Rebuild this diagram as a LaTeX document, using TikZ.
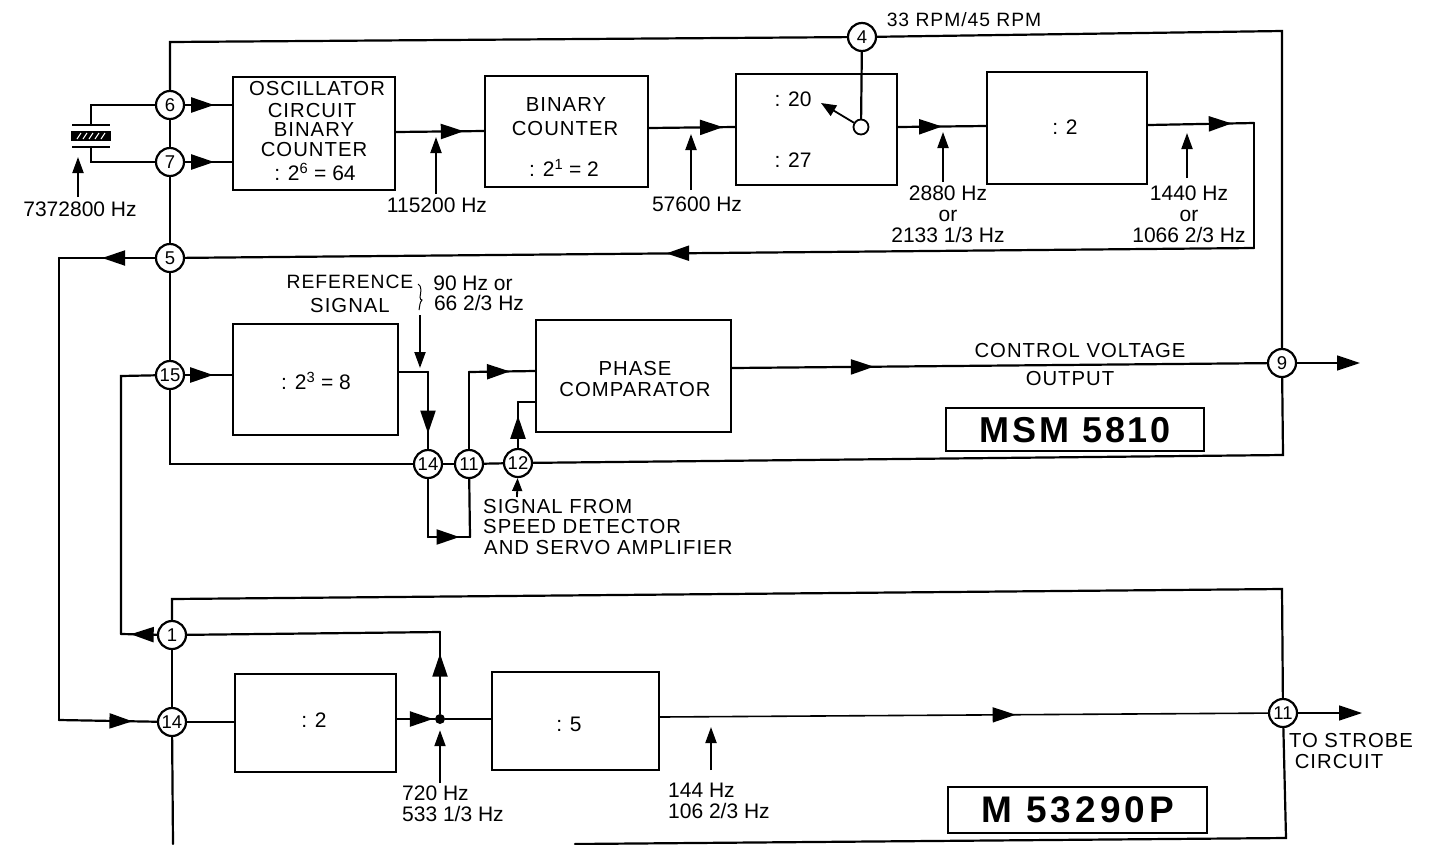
\documentclass[tikz,border=0pt]{standalone}
\usepackage{fontspec}
\setmainfont{Liberation Sans}
\newfontfamily\capsf[LetterSpace=5]{Liberation Sans}
\newfontfamily\bigsf[LetterSpace=8]{Liberation Sans}
\newfontfamily\bigsfb[LetterSpace=11]{Liberation Sans}
\usetikzlibrary{arrows.meta,decorations.markings}
\tikzset{
  x=1pt,y=-1pt,
  wire/.style={line width=2.2pt,line cap=round,line join=miter},
  thinwire/.style={line width=1.6pt},
  pin/.style={circle,draw,line width=2.2pt,fill=white,minimum size=28pt,inner sep=0pt,font=\fontsize{18.5}{18}\selectfont},
  block/.style={draw,line width=2.2pt,anchor=north west,inner sep=0pt},
  lbl/.style={inner sep=0pt,align=center,font=\fontsize{21}{20}\selectfont},
  captext/.style={inner sep=0pt,align=center,font=\capsf\fontsize{20.3}{20}\selectfont},
  smallcap/.style={inner sep=0pt,align=center,font=\capsf\fontsize{19.3}{20}\selectfont},
  ttl/.style={draw,line width=2.4pt,anchor=north west,inner sep=0pt},
  pointer/.style={line width=2pt,-{Triangle[length=16pt,width=11pt]}},
  tipat/.style={postaction={decorate,decoration={markings,mark=at position #1 with {\arrow{Triangle[length=23pt,width=15pt]}}}}},
}
\begin{document}
\begin{tikzpicture}
\useasboundingbox (0,0) rectangle (1439,844);
% pins
\node[pin] (p4) at (862,37) {4};
\node[pin] (p6) at (170,105) {6};
\node[pin] (p7) at (170,162) {7};
\node[pin] (p5) at (170,258) {5};
\node[pin] (p15) at (170,375) {15};
\node[pin] (p14a) at (428,464) {14};
\node[pin] (p11a) at (469,464) {11};
\node[pin] (p12) at (518,463) {12};
\node[pin] (p9) at (1282,363) {9};
\node[pin] (p1) at (172,635) {1};
\node[pin] (p14b) at (172,722) {14};
\node[pin] (p11b) at (1283,713) {11};
% blocks
\node[block,minimum width=162pt,minimum height=113pt] (osc) at (232,76) {};
\node[block,minimum width=163pt,minimum height=111pt] (bin) at (484,75) {};
\node[block,minimum width=161pt,minimum height=111pt] (sw) at (735,73) {};
\node[block,minimum width=160pt,minimum height=112pt] (dtwo) at (986,71) {};
\node[block,minimum width=165pt,minimum height=111pt] (deight) at (232,323) {};
\node[block,minimum width=195pt,minimum height=112pt] (phase) at (535,319) {};
\node[block,minimum width=161pt,minimum height=98pt] (dtwob) at (234,673) {};
\node[block,minimum width=167pt,minimum height=98pt] (dfive) at (491,671) {};
% block texts
\node[captext] (tosc1) at (317,89) {OSCILLATOR};
\node[captext] (tosc2) at (312,111) {CIRCUIT};
\node[captext] (tosc3) at (314,130) {BINARY};
\node[captext] (tosc4) at (314,150) {COUNTER};
\node[lbl] (tosc5) at (315,172) {: 2\textsuperscript{6} = 64};
\node[captext] (tbin1) at (566,105) {BINARY};
\node[captext] (tbin2) at (565,129) {COUNTER};
\node[lbl] (tbin3) at (564,168) {: 2\textsuperscript{1} = 2};
\node[lbl] (t20) at (793,99) {: 20};
\node[lbl] (t27) at (793,160) {: 27};
\node[lbl] (ttwo) at (1065,127) {: 2};
\node[lbl] (teight) at (316,381) {: 2\textsuperscript{3} = 8};
\node[captext] (tph1) at (635,369) {PHASE};
\node[captext] (tph2) at (635,390) {COMPARATOR};
\node[lbl] (ttwob) at (314,720) {: 2};
\node[lbl] (tfive) at (569,724) {: 5};
% free labels
\node[smallcap] (rpm) at (964,20) {33 RPM/45 RPM};
\node[lbl] (l7372) at (80,209) {7372800 Hz};
\node[lbl] (l115) at (437,205) {115200 Hz};
\node[lbl] (l576) at (697,204) {57600 Hz};
\node[lbl] (l288) at (948,214) {2880 Hz\\[1pt] or\\[1pt] 2133 1/3 Hz};
\node[lbl] (l144) at (1189,214) {1440 Hz\\[1pt] or\\[1pt] 1066 2/3 Hz};
\node[smallcap] (lref) at (350,282) {REFERENCE};
\node[captext] (lsig) at (350,306) {SIGNAL};
\node[lbl] (l90) at (473,283) {90 Hz or};
\node[lbl] (l66) at (479,303) {66 2/3 Hz};
\node[captext] (lcv) at (1080,351) {CONTROL VOLTAGE};
\node[captext] (lout) at (1070,379) {OUTPUT};
\node[captext,anchor=west] (ls1) at (483,507) {SIGNAL FROM};
\node[captext,anchor=west] (ls2) at (483,527) {SPEED DETECTOR};
\node[captext,anchor=west] (ls3) at (484,548) {AND SERVO AMPLIFIER};
\node[lbl,anchor=west] (l720) at (402,793) {720 Hz};
\node[lbl,anchor=west] (l533) at (402,814) {533 1/3 Hz};
\node[lbl,anchor=west] (l1440) at (668,790) {144 Hz};
\node[lbl,anchor=west] (l106) at (668,811) {106 2/3 Hz};
\node[captext] (lto) at (1351,740) {TO STROBE};
\node[captext] (lci) at (1339,761) {CIRCUIT};
\node[ttl,minimum width=258pt,minimum height=43pt,font=\bigsf\bfseries\fontsize{36}{36}\selectfont] (msm) at (945,407) {MSM 5810};
\node[ttl,minimum width=259pt,minimum height=46pt,font=\bigsfb\bfseries\fontsize{37}{37}\selectfont] (m53) at (947,786) {M 53290P};
% coordinates
\coordinate (a) at (170,42);
\coordinate (b) at (1282,31);
\coordinate (c) at (1283,455);
\coordinate (d) at (170,464);
\coordinate (e) at (1254,123);
\coordinate (f) at (1254,248);
\coordinate (g) at (59,258);
\coordinate (h) at (59,720);
\coordinate (i) at (121,376);
\coordinate (j) at (121,634);
\coordinate (k) at (172,599);
\coordinate (l) at (1282,589);
\coordinate (m) at (1286,838);
\coordinate (n) at (575,844);
\coordinate (o) at (173,844);
\coordinate (q) at (440,632);
\coordinate (r) at (428,372);
\coordinate (s) at (428,537);
\coordinate (t) at (470,537);
\coordinate (u) at (469,372);
\coordinate (v) at (518,402);
\coordinate (w) at (91,105);
\coordinate (x1) at (91,162);
\coordinate (out9) at (1360,363);
\coordinate (out11) at (1362,713);
\coordinate (y132) at (0,132);
\coordinate (y131) at (0,131);
\coordinate (y128) at (0,128);
\coordinate (y127) at (0,127);
\coordinate (y126) at (0,126);
\coordinate (y125) at (0,125);
\coordinate (y371) at (0,371);
\coordinate (y368) at (0,368);
\coordinate (y717) at (0,717);
\node[circle,fill,minimum size=10pt,inner sep=0pt] (jn) at (440,719) {};
\node[circle,draw,fill=white,line width=1.8pt,minimum size=15pt,inner sep=0pt] (sc) at (861,127) {};
% crystal
\draw[line width=2.4pt] (72,125) -- (110,125) (72,147) -- (110,147);
\node[draw,line width=1.5pt,fill=black,minimum width=38pt,minimum height=9pt,inner sep=0pt] (xt) at (91,136) {};
\foreach \q in {77,83,89,95,101} \draw[white,line width=1.1pt] (\q,139) -- (\q+4,133);
\draw[wire] (p6) -- (w) -- (91,125);
\draw[wire] (p7) -- (x1) -- (91,147);
% outer loop, MSM 5810
\draw[wire] (p6) -- (a) -- (p4);
\draw[wire] (p4) -- (b) -- (p9);
\draw[wire] (p9) -- (c) -- (p12);
\draw[wire] (p12) -- (p11a);
\draw[wire] (p11a) -- (p14a);
\draw[wire] (p14a) -- (d) -- (p15);
\draw[wire] (p6) -- (p7);
\draw[wire] (p7) -- (p5);
\draw[wire] (p5) -- (p15);
% signal path
\draw[wire,tipat=0.62] (p6) -- (osc.west |- p6);
\draw[wire,tipat=0.62] (p7) -- (osc.west |- p7);
\draw[wire,tipat=0.77] (osc.east |- y132) -- (bin.west |- y131);
\draw[wire,tipat=0.86] (bin.east |- y128) -- (sw.west |- y127);
\draw[wire,tipat=0.5] (sw.east |- y127) -- (dtwo.west |- y126);
\draw[wire,tipat=0.79] (dtwo.east |- y125) -- (e);
\draw[wire] (e) -- (f);
\draw[wire,tipat=0.55] (f) -- (p5);
\draw[wire,tipat=0.55] (p5) -- (g);
\draw[wire] (g) -- (h);
\draw[wire,tipat=0.75] (h) -- (p14b);
\draw[wire,tipat=0.6] (p15) -- (deight.west |- p15);
\draw[wire] (p15) -- (i) -- (j);
\draw[wire,tipat=0.73] (p1) -- (j);
\draw[wire] (p4) -- (sc);
\draw[line width=1.8pt,-{Triangle[length=15pt,width=12pt]}] (sc) -- (821,103);
\draw[wire] (deight.east |- r) -- (r);
\draw[wire,tipat=0.80] (r) -- (p14a);
\draw[wire] (p14a) -- (s);
\draw[wire,tipat=0.75] (s) -- (t);
\draw[wire] (t) -- (p11a);
\draw[wire] (p11a) -- (u);
\draw[wire,tipat=0.62] (u) -- (phase.west |- y371);
\draw[wire,tipat=0.7] (p12) -- (v);
\draw[wire] (v) -- (phase.west |- v);
\draw[wire,tipat=0.265] (phase.east |- y368) -- (p9);
\draw[thinwire,-{Triangle[length=23pt,width=15pt]}] (p9) -- (out9);
% lower loop, M 53290P
\draw[wire] (p1) -- (k) -- (l) -- (p11b);
\draw[wire] (p11b) -- (m) -- (n);
\draw[wire] (p14b) -- (o);
\draw[wire] (p1) -- (p14b);
\draw[wire] (p14b) -- (dtwob.west |- p14b);
\draw[wire] (p1) -- (q);
\draw[wire,tipat=0.735] (jn) -- (q);
\draw[wire,tipat=0.95] (dtwob.east |- jn) -- (jn);
\draw[wire] (jn) -- (dfive.west |- jn);
\draw[thinwire,tipat=0.585] (dfive.east |- y717) -- (p11b);
\draw[thinwire,-{Triangle[length=23pt,width=15pt]}] (p11b) -- (out11);
% pointers
\coordinate (t1) at (78,197); \coordinate (t1e) at (78,157);
\draw[pointer] (t1) -- (t1e);
\coordinate (t2) at (436,194); \coordinate (t2e) at (436,137);
\draw[pointer] (t2) -- (t2e);
\coordinate (t3) at (691,190); \coordinate (t3e) at (691,134);
\draw[pointer] (t3) -- (t3e);
\coordinate (t4) at (943,182); \coordinate (t4e) at (943,132);
\draw[pointer] (t4) -- (t4e);
\coordinate (t5) at (1187,178); \coordinate (t5e) at (1187,133);
\draw[pointer] (t5) -- (t5e);
\coordinate (t6) at (420,315); \coordinate (t6e) at (420,368);
\draw[pointer] (t6) -- (t6e);
\coordinate (t7) at (517,497);
\draw[line width=1.8pt,-{Triangle[length=13pt,width=10pt]}] (t7) -- (p12);
\coordinate (t8) at (440,783);
\draw[pointer,shorten >=6pt] (t8) -- (jn);
\coordinate (t9) at (711,770); \coordinate (t9e) at (711,727);
\draw[pointer] (t9) -- (t9e);
% brace
\draw[line width=1pt] (418,284) .. controls (422,286) and (421,292) .. (420,297) .. controls (420,299) and (421,300) .. (422,300) .. controls (421,301) and (420,303) .. (420,304) -- (419,310);
\end{tikzpicture}
\end{document}
